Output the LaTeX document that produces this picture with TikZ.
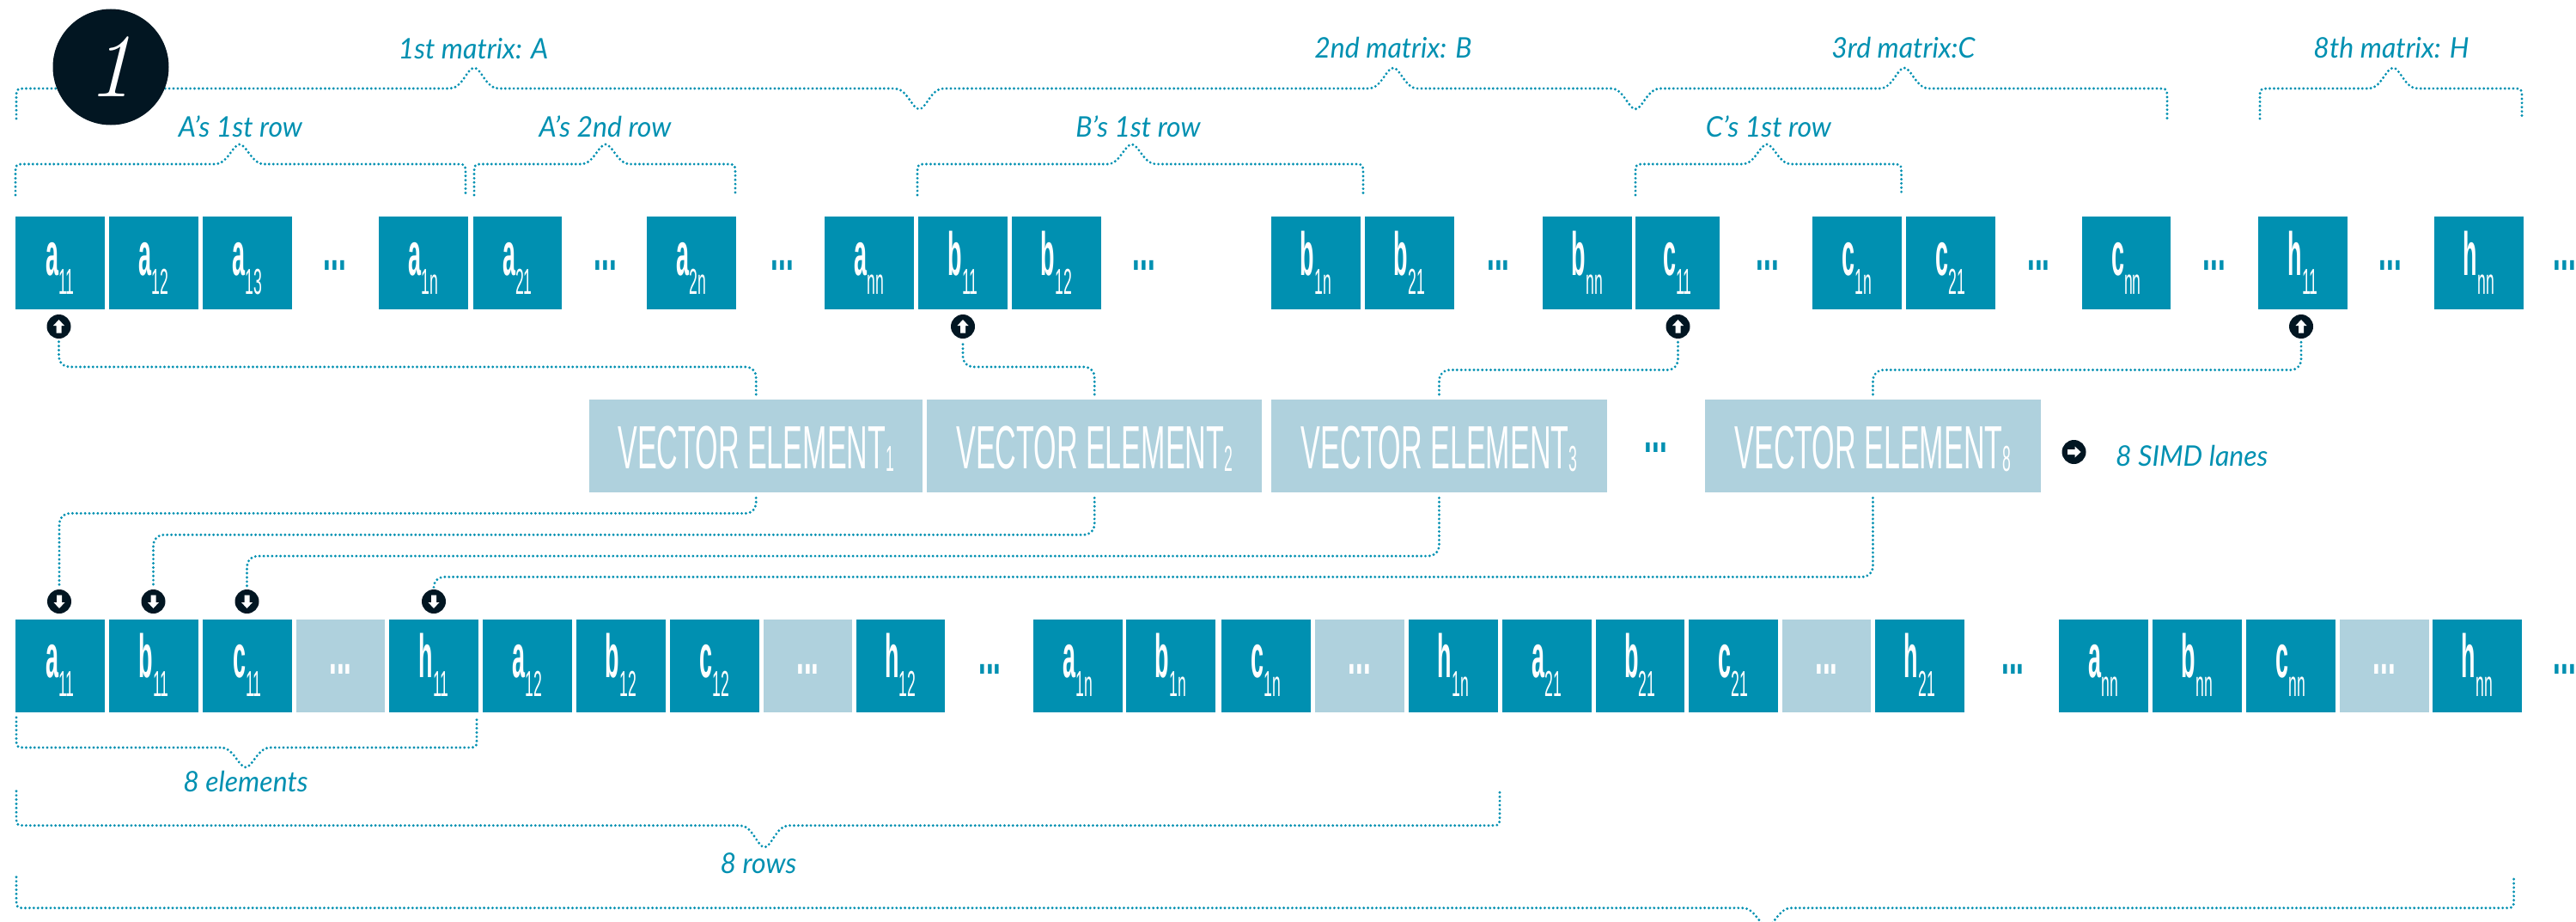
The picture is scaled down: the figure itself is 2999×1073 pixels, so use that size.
\documentclass[tikz,border=0pt]{standalone}
\usepackage{fontspec}
\setmainfont{Lato}
\newfontfamily\labf[FakeStretch=0.97]{Lato Italic}
\newfontfamily\cellf[FakeStretch=0.38]{Liberation Sans Bold}
\newfontfamily\subf[FakeStretch=0.42]{Liberation Sans}
\newfontfamily\dotf[FakeStretch=0.42]{Liberation Sans Bold}
\newfontfamily\vecf[FakeStretch=0.48]{Liberation Sans}
\definecolor{teal}{HTML}{0090B1}
\definecolor{pale}{HTML}{AFD1DD}
\definecolor{ink}{HTML}{021622}
\tikzset{
  x=1pt,y=-1pt,
  cellbox/.style={fill=teal,text=white,inner sep=0pt,minimum width=103.5pt,text height=68pt,text depth=40pt,anchor=north west,font=\fontsize{71}{71}\cellf},
  palebox/.style={fill=pale,text=white,inner sep=0pt,minimum width=103.5pt,text height=63.3pt,text depth=44.7pt,anchor=north west,font=\fontsize{75}{75}\dotf},
  vecbox/.style={fill=pale,text=white,inner sep=0pt,text height=80pt,text depth=28pt,anchor=north west,font=\fontsize{71}{71}\vecf},
  gapdots/.style={text=teal,inner sep=0pt,anchor=base,font=\fontsize{75}{75}\dotf},
  lab/.style={text=teal,inner sep=0pt,font=\fontsize{33}{33}\labf},
  dotline/.style={draw=teal,line width=3.2pt,line cap=round,dash pattern=on 0pt off 4.9pt},
  conn/.style={dotline,rounded corners=12pt},
  badge/.style={circle,fill=ink,inner sep=0pt,minimum size=28pt},
  blockarrow/.pic={\fill[white] (0,-8) -- (6.5,-1) -- (3,-1) -- (3,7.5) -- (-3,7.5) -- (-3,-1) -- (-6.5,-1) -- cycle;},
}
\newcommand{\cell}[6][]{\node[cellbox,#1] (#2) at (#3,#4) {#5\raisebox{-22pt}{\fontsize{42}{42}\subf #6}};}
\newcommand{\bp}[3]{-- (#1-28,#2) .. controls (#1-14,#2) and (#1-8,#3) .. (#1,#3) .. controls (#1+8,#3) and (#1+14,#2) .. (#1+28,#2)}
\newcommand{\vel}[1]{VECTOR ELEMENT\raisebox{-3pt}{\fontsize{42}{42}\subf #1}}
\begin{document}
\begin{tikzpicture}
\useasboundingbox (0,0) rectangle (2999,1073);
% top row
\cell{ta1}{18}{252}{a}{11}
\cell{ta2}{127}{252}{a}{12}
\cell{ta3}{236}{252}{a}{13}
\node[gapdots] (td1) at (390,314) {...};
\cell{tan}{441}{252}{a}{1n}
\cell{tb1x}{550.5}{252}{a}{21}
\node[gapdots] (td2) at (705,314) {...};
\cell{ta2n}{753}{252}{a}{2n}
\node[gapdots] (td3) at (911,314) {...};
\cell{tann}{960}{252}{a}{nn}
\cell{tb11}{1069}{252}{b}{11}
\cell{tb12}{1178}{252}{b}{12}
\node[gapdots] (td4) at (1332,314) {...};
\cell{tb1n}{1480}{252}{b}{1n}
\cell{tb21}{1589}{252}{b}{21}
\node[gapdots] (td5) at (1744.5,314) {...};
\cell{tbnn}{1796}{252}{b}{nn}
\cell[minimum width=97.7pt]{tc11}{1904}{252}{c}{11}
\node[gapdots] (td6) at (2058,314) {...};
\cell{tc1n}{2110}{252}{c}{1n}
\cell{tc21}{2219}{252}{c}{21}
\node[gapdots] (td7) at (2373.5,314) {...};
\cell{tcnn}{2423.5}{252}{c}{nn}
\node[gapdots] (td8) at (2578,314) {...};
\cell{th11}{2629}{252}{h}{11}
\node[gapdots] (td9) at (2783,314) {...};
\cell{thnn}{2834}{252}{h}{nn}
\node[gapdots] (td10) at (2986,314) {...};
% vector elements
\node[vecbox,minimum width=388pt] (ve1) at (686,465) {\vel{1}};
\node[vecbox,minimum width=390pt] (ve2) at (1079,465) {\vel{2}};
\node[vecbox,minimum width=390.5pt] (ve3) at (1480,465) {\vel{3}};
\node[gapdots] (vd) at (1928,526) {...};
\node[vecbox,minimum width=390.5pt] (ve8) at (1985,465) {\vel{8}};
\node[badge] (lanearrow) at (2414.5,526) {};
\pic[rotate=-90] at (lanearrow.center) {blockarrow};
\node[lab,anchor=west] (lanes) at (2463,530) {8 SIMD lanes};
% bottom row
\cell{ba11}{18}{720.7}{a}{11}
\cell{bb11}{127}{720.7}{b}{11}
\cell{bc11}{236}{720.7}{c}{11}
\node[palebox] (bd1) at (344.5,720.7) {...};
\cell{bh11}{453}{720.7}{h}{11}
\cell{ba12}{562}{720.7}{a}{12}
\cell{bb12}{671}{720.7}{b}{12}
\cell{bc12}{780}{720.7}{c}{12}
\node[palebox] (bd2) at (888.5,720.7) {...};
\cell{bh12}{996.5}{720.7}{h}{12}
\node[gapdots] (bg1) at (1152.5,784) {...};
\cell{ba1n}{1203}{720.7}{a}{1n}
\cell{bb1n}{1311}{720.7}{b}{1n}
\cell{bc1n}{1422}{720.7}{c}{1n}
\node[palebox] (bd3) at (1531,720.7) {...};
\cell{bh1n}{1640}{720.7}{h}{1n}
\cell{ba21}{1749}{720.7}{a}{21}
\cell{bb21}{1857.5}{720.7}{b}{21}
\cell{bc21}{1966}{720.7}{c}{21}
\node[palebox] (bd4) at (2074.6,720.7) {...};
\cell{bh21}{2183}{720.7}{h}{21}
\node[gapdots] (bg2) at (2343.5,784) {...};
\cell{bann}{2397}{720.7}{a}{nn}
\cell{bbnn}{2506}{720.7}{b}{nn}
\cell{bcnn}{2615}{720.7}{c}{nn}
\node[palebox] (bd5) at (2724,720.7) {...};
\cell{bhnn}{2832}{720.7}{h}{nn}
\node[gapdots] (bg3) at (2986,784) {...};
% badges
\foreach \n/\xx in {ua/68.5,ub/1121,uc/1953.5,uh/2679}{
  \node[badge] (\n) at (\xx,380) {};
  \pic at (\n.center) {blockarrow};
}
\foreach \n/\xx in {da/69,db/178.5,dc/287.5,dh/505}{
  \node[badge] (\n) at (\xx,700) {};
  \pic[rotate=180] at (\n.center) {blockarrow};
}
% connectors
\draw[conn,shorten <=6pt,shorten >=3pt] (ve1.north) -- ++(0,-38) -| (ua.south);
\draw[conn,shorten <=6pt,shorten >=3pt] (ve2.north) -- ++(0,-38) -| (ub.south);
\draw[conn,shorten <=6pt,shorten >=3pt] (ve3.north) -- ++(0,-34.5) -| (uc.south);
\draw[conn,shorten <=6pt,shorten >=3pt] (ve8.north) -- ++(0,-34.5) -| (uh.south);
\draw[conn,shorten <=6pt,shorten >=1pt] (ve1.south) -- ++(0,24) -| (da.north);
\draw[conn,shorten <=6pt,shorten >=1pt] (ve2.south) -- ++(0,49) -| (db.north);
\draw[conn,shorten <=6pt,shorten >=1pt] (ve3.south) -- ++(0,73.7) -| (dc.north);
\draw[conn,shorten <=6pt,shorten >=1pt] (ve8.south) -- ++(0,98) -| (dh.north);
% braces
\coordinate (m1s) at (19,138);
\coordinate (m1e) at (2523,138);
\draw[dotline] (m1s) -- (19,115) .. controls (19,103) .. (31,103) \bp{552}{103}{79} \bp{1070}{103}{127} \bp{1622}{103}{79} \bp{1904}{103}{127} \bp{2217}{103}{79} -- (2511,103) .. controls (2523,103) .. (2523,115) -- (m1e);
\coordinate (m8s) at (2631,138);
\coordinate (m8e) at (2936,138);
\draw[dotline] (m8s) -- (2631,115) .. controls (2631,103) .. (2643,103) \bp{2786}{103}{79} -- (2924,103) .. controls (2936,103) .. (2936,115) -- (m8e);
\coordinate (r1s) at (18,227);
\coordinate (r1e) at (542,227);
\draw[dotline] (r1s) -- (18,203) .. controls (18,191) .. (30,191) \bp{279}{191}{168} -- (530,191) .. controls (542,191) .. (542,203) -- (r1e);
\coordinate (r2s) at (552,227);
\coordinate (r2e) at (856,227);
\draw[dotline] (r2s) -- (552,203) .. controls (552,191) .. (564,191) \bp{705}{191}{168} -- (844,191) .. controls (856,191) .. (856,203) -- (r2e);
\coordinate (r3s) at (1068,227);
\coordinate (r3e) at (1587,227);
\draw[dotline] (r3s) -- (1068,203) .. controls (1068,191) .. (1080,191) \bp{1317.6}{191}{168} -- (1575,191) .. controls (1587,191) .. (1587,203) -- (r3e);
\coordinate (r4s) at (1904,227);
\coordinate (r4e) at (2213.6,227);
\draw[dotline] (r4s) -- (1904,203) .. controls (1904,191) .. (1916,191) \bp{2057}{191}{168} -- (2201.6,191) .. controls (2213.6,191) .. (2213.6,203) -- (r4e);
\coordinate (e8s) at (19,835);
\coordinate (e8e) at (555,835);
\draw[dotline] (e8s) -- (19,858) .. controls (19,870) .. (31,870) \bp{286}{870}{893} -- (543,870) .. controls (555,870) .. (555,858) -- (e8e);
\coordinate (w8s) at (19,920.7);
\coordinate (w8e) at (1746,920.7);
\draw[dotline] (w8s) -- (19,948.7) .. controls (19,960.7) .. (31,960.7) \bp{890}{960.7}{986} -- (1734,960.7) .. controls (1746,960.7) .. (1746,948.7) -- (w8e);
\coordinate (a8s) at (19,1020.7);
\coordinate (a8e) at (2926.6,1020.7);
\draw[dotline] (a8s) -- (19,1044.7) .. controls (19,1056.7) .. (31,1056.7) \bp{2057}{1056.7}{1078} -- (2914.6,1056.7) .. controls (2926.6,1056.7) .. (2926.6,1044.7) -- (a8e);
% labels
\node[lab] (l1) at (551,57) {1st matrix: A};
\node[lab] (l2) at (280,147) {A’s 1st row};
\node[lab] (l3) at (704.5,147) {A’s 2nd row};
\node[lab] (l4) at (1622,55) {2nd matrix: B};
\node[lab] (l5) at (1325,147) {B’s 1st row};
\node[lab] (l6) at (2216,55.5) {3rd matrix:C};
\node[lab] (l7) at (2059,147) {C’s 1st row};
\node[lab] (l8) at (2784,55.5) {8th matrix: H};
\node[lab] (l9) at (286,909) {8 elements};
\node[lab] (l10) at (883,1005) {8 rows};
% big number
\node[circle,fill=ink,text=white,inner sep=0pt,minimum size=135pt,font=\fontsize{105}{105}\rmfamily] (num) at (129,78) {\fontspec{Latin Modern Roman}\itshape 1};
\end{tikzpicture}
\end{document}
